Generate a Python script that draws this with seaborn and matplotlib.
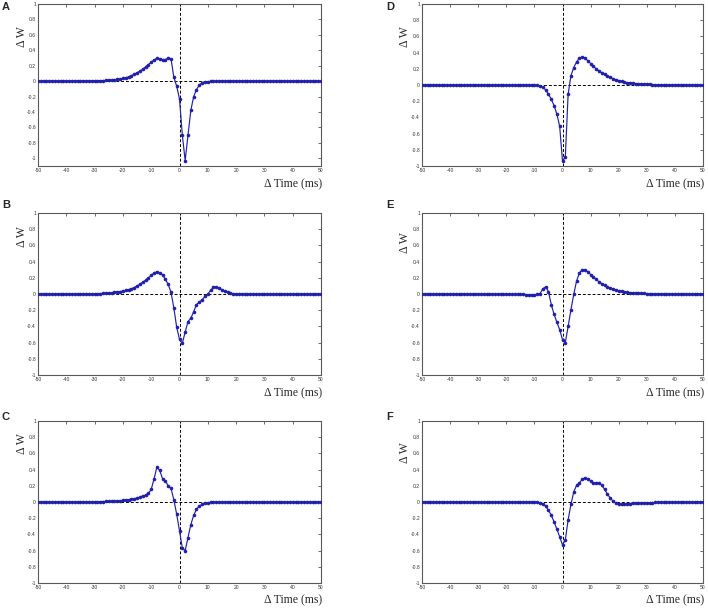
import matplotlib
matplotlib.use("Agg")

import matplotlib.pyplot as plt
import numpy as np
import pandas as pd
import seaborn as sns


# spike timing difference (ms), one sample per ms
TIME_MS = np.arange(-50, 51)

PANEL_A = [
    0.000, 0.000, 0.000, 0.000, 0.000, 0.000, 0.000, 0.000, 0.001, 0.001,
    0.001, 0.001, 0.001, 0.002, 0.002, 0.002, 0.003, 0.003, 0.004, 0.004,
    0.005, 0.006, 0.007, 0.008, 0.010, 0.012, 0.015, 0.018, 0.022, 0.027,
    0.035, 0.045, 0.055, 0.070, 0.090, 0.110, 0.130, 0.155, 0.185, 0.215,
    0.245, 0.275, 0.295, 0.290, 0.280, 0.280, 0.300, 0.290, 0.050, -0.065,
    -0.230, -0.700, -1.030, -0.700, -0.380, -0.200, -0.110, -0.050, -0.020, -0.010,
    -0.006, -0.004, -0.003, -0.002, -0.002, -0.001, -0.001, -0.001, 0.000, 0.000,
    0.000, 0.000, 0.000, 0.000, 0.000, 0.000, 0.000, 0.000, 0.000, 0.000,
    0.000, 0.000, 0.000, 0.000, 0.000, 0.000, 0.000, 0.000, 0.000, 0.000,
    0.000, 0.000, 0.000, 0.000, 0.000, 0.000, 0.000, 0.000, 0.000, 0.000,
    0.000,
]

PANEL_B = [
    0.000, 0.000, 0.000, 0.000, 0.000, 0.000, 0.001, 0.001, 0.001, 0.001,
    0.001, 0.001, 0.001, 0.001, 0.002, 0.002, 0.002, 0.003, 0.003, 0.003,
    0.004, 0.005, 0.006, 0.008, 0.010, 0.013, 0.016, 0.020, 0.025, 0.030,
    0.037, 0.045, 0.055, 0.065, 0.080, 0.100, 0.120, 0.145, 0.170, 0.200,
    0.230, 0.260, 0.275, 0.260, 0.240, 0.180, 0.120, 0.020, -0.170, -0.410,
    -0.560, -0.610, -0.470, -0.340, -0.300, -0.220, -0.130, -0.100, -0.070, -0.030,
    0.000, 0.045, 0.085, 0.090, 0.075, 0.055, 0.035, 0.020, 0.010, 0.005,
    0.003, 0.002, 0.001, 0.001, 0.001, 0.000, 0.000, 0.000, 0.000, 0.000,
    0.000, 0.000, 0.000, 0.000, 0.000, 0.000, 0.000, 0.000, 0.000, 0.000,
    0.000, 0.000, 0.000, 0.000, 0.000, 0.000, 0.000, 0.000, 0.000, 0.000,
    0.000,
]

PANEL_C = [
    0.000, 0.000, 0.000, 0.000, 0.000, 0.000, 0.000, 0.001, 0.001, 0.001,
    0.001, 0.001, 0.001, 0.001, 0.001, 0.002, 0.002, 0.002, 0.002, 0.003,
    0.003, 0.004, 0.005, 0.006, 0.007, 0.008, 0.010, 0.012, 0.014, 0.017,
    0.020, 0.024, 0.028, 0.033, 0.040, 0.050, 0.060, 0.075, 0.085, 0.105,
    0.155, 0.285, 0.430, 0.390, 0.290, 0.260, 0.200, 0.170, 0.025, -0.150,
    -0.355, -0.570, -0.600, -0.440, -0.280, -0.165, -0.090, -0.050, -0.030, -0.015,
    -0.008, -0.005, -0.003, -0.002, -0.001, -0.001, 0.000, 0.000, 0.000, 0.000,
    0.000, 0.000, 0.000, 0.000, 0.000, 0.000, 0.000, 0.000, 0.000, 0.000,
    0.000, 0.000, 0.000, 0.000, 0.000, 0.000, 0.000, 0.000, 0.000, 0.000,
    0.000, 0.000, 0.000, 0.000, 0.000, 0.000, 0.000, 0.000, 0.000, 0.000,
    0.000,
]

PANEL_D = [
    0.000, 0.000, 0.000, 0.000, 0.000, 0.000, 0.000, 0.000, 0.000, 0.000,
    0.000, 0.000, 0.000, 0.000, 0.000, 0.000, 0.000, 0.000, 0.000, 0.000,
    0.000, 0.000, 0.000, 0.000, 0.000, 0.000, 0.000, 0.000, 0.000, 0.000,
    0.000, 0.000, 0.000, 0.000, 0.000, 0.000, 0.000, 0.000, 0.000, -0.001,
    -0.002, -0.004, -0.010, -0.030, -0.060, -0.115, -0.175, -0.255, -0.360, -0.510,
    -0.940, -0.890, -0.115, 0.115, 0.215, 0.285, 0.330, 0.347, 0.330, 0.300,
    0.265, 0.230, 0.200, 0.175, 0.150, 0.130, 0.110, 0.094, 0.078, 0.065,
    0.055, 0.045, 0.037, 0.030, 0.025, 0.020, 0.017, 0.014, 0.012, 0.010,
    0.008, 0.007, 0.006, 0.005, 0.004, 0.003, 0.003, 0.002, 0.002, 0.002,
    0.001, 0.001, 0.001, 0.001, 0.001, 0.001, 0.000, 0.000, 0.000, 0.000,
    0.000,
]

PANEL_E = [
    0.000, 0.000, 0.000, 0.000, 0.000, 0.000, 0.000, 0.000, 0.000, 0.000,
    0.000, 0.000, 0.000, 0.000, 0.000, 0.000, 0.000, 0.000, 0.000, 0.000,
    0.000, 0.000, 0.000, -0.001, -0.001, -0.001, -0.001, -0.001, -0.002, -0.002,
    -0.002, -0.002, -0.003, -0.003, -0.004, -0.005, -0.006, -0.007, -0.008, -0.008,
    -0.008, -0.005, 0.005, 0.065, 0.088, 0.030, -0.130, -0.250, -0.350, -0.440,
    -0.565, -0.600, -0.400, -0.195, -0.005, 0.160, 0.260, 0.300, 0.300, 0.275,
    0.240, 0.210, 0.180, 0.150, 0.127, 0.107, 0.090, 0.074, 0.061, 0.050,
    0.040, 0.033, 0.027, 0.022, 0.018, 0.015, 0.012, 0.010, 0.008, 0.007,
    0.006, 0.005, 0.004, 0.003, 0.003, 0.002, 0.002, 0.002, 0.001, 0.001,
    0.001, 0.001, 0.001, 0.000, 0.000, 0.000, 0.000, 0.000, 0.000, 0.000,
    0.000,
]

PANEL_F = [
    0.000, 0.000, 0.000, 0.000, 0.000, 0.000, 0.000, 0.000, 0.000, 0.000,
    0.000, 0.000, 0.000, 0.000, 0.000, 0.000, 0.000, 0.000, 0.000, 0.000,
    0.000, 0.000, 0.000, 0.000, 0.000, 0.000, 0.000, 0.000, 0.000, 0.000,
    0.000, 0.000, 0.000, 0.000, 0.000, 0.000, 0.000, 0.000, 0.000, 0.000,
    -0.001, -0.003, -0.008, -0.020, -0.053, -0.100, -0.165, -0.245, -0.335, -0.430,
    -0.530, -0.470, -0.220, -0.030, 0.125, 0.205, 0.235, 0.280, 0.300, 0.285,
    0.260, 0.235, 0.240, 0.240, 0.205, 0.155, 0.094, 0.050, 0.008, -0.012,
    -0.020, -0.025, -0.025, -0.022, -0.020, -0.018, -0.015, -0.013, -0.012, -0.010,
    -0.009, -0.008, -0.007, -0.006, -0.006, -0.005, -0.005, -0.004, -0.004, -0.003,
    -0.003, -0.003, -0.002, -0.002, -0.002, -0.002, -0.001, -0.001, -0.001, -0.001,
    -0.001,
]

X_TICKS = [-50, -40, -30, -20, -10, 0, 10, 20, 30, 40, 50]
Y_TICKS = [-1, -0.8, -0.6, -0.4, -0.2, 0, 0.2, 0.4, 0.6, 0.8, 1]
Y_TICK_LABELS = ["-1", "-0.8", "-0.6", "-0.4", "-0.2", "0",
                 "0.2", "0.4", "0.6", "0.8", "1"]

FIG_W, FIG_H = 708, 609
LINE_COLOR = "#2020ac"
SPINE_COLOR = "#5a5a5a"

# label: (values, ylim, box in px [left, top, right, bottom], letter xy, ylabel xy, xlabel y)
PANELS = {
    "A": (PANEL_A, (-1.1, 1), (38, 4, 321, 166), (6, 7), (22, 37), 184),
    "B": (PANEL_B, (-1, 1), (38, 213, 321, 375), (6, 205), (22, 237), 393),
    "C": (PANEL_C, (-1, 1), (38, 421, 321, 583), (6, 417), (22, 444), 600),
    "D": (PANEL_D, (-1, 1), (422, 4, 703, 166), (390, 7), (405, 37), 184),
    "E": (PANEL_E, (-1, 1), (422, 213, 703, 375), (390, 205), (405, 243), 393),
    "F": (PANEL_F, (-1, 1), (422, 421, 703, 583), (390, 417), (405, 453), 600),
}


def px_to_fig(x, y):
    return x / FIG_W, 1 - y / FIG_H


def draw_panel(fig, label, spec):
    values, ylim, box, letter_xy, ylabel_xy, xlabel_y = spec
    left, top, right, bottom = box
    ax = fig.add_axes([left / FIG_W, 1 - bottom / FIG_H,
                       (right - left) / FIG_W, (bottom - top) / FIG_H])

    df = pd.DataFrame({"time": TIME_MS, "dw": values})
    ax.axhline(0, color="black", lw=0.7, ls=(0, (3, 2)), zorder=1)
    ax.axvline(0, color="black", lw=0.7, ls=(0, (3, 2)), zorder=1)
    sns.lineplot(data=df, x="time", y="dw", ax=ax, color=LINE_COLOR,
                 lw=0.85, marker="o", markersize=2.6, markeredgewidth=0,
                 zorder=3)

    ax.set_xlim(-50, 50)
    ax.set_ylim(*ylim)
    ax.set_xticks(X_TICKS)
    ax.set_xticklabels([str(t) for t in X_TICKS])
    ax.set_yticks(Y_TICKS)
    ax.set_yticklabels(Y_TICK_LABELS)
    ax.tick_params(direction="in", length=2.5, width=0.5, top=True, right=True,
                   labelsize=3.6, pad=1.5, colors="#333333")
    ax.set_xlabel("")
    ax.set_ylabel("")
    ax.grid(False)
    for spine in ax.spines.values():
        spine.set_color(SPINE_COLOR)
        spine.set_linewidth(0.8)

    fig.text(*px_to_fig(*letter_xy), label, fontsize=8, fontweight="bold",
             family="Liberation Sans", ha="center", va="center")
    fig.text(*px_to_fig(*ylabel_xy), "Δ W", fontsize=8.5, rotation=90,
             family="Liberation Serif", ha="center", va="center")
    fig.text(*px_to_fig(right + 1, xlabel_y), "Δ Time (ms)", fontsize=8.5,
             family="Liberation Serif", ha="right", va="center")


def main():
    sns.set_theme(style="white")
    plt.rcParams["font.family"] = ["Liberation Sans", "DejaVu Sans"]
    fig = plt.figure(figsize=(FIG_W / 100, FIG_H / 100), dpi=100)
    for label, spec in PANELS.items():
        draw_panel(fig, label, spec)
    fig.savefig("out.png", dpi=100, facecolor="white")
    plt.close(fig)


if __name__ == "__main__":
    main()
